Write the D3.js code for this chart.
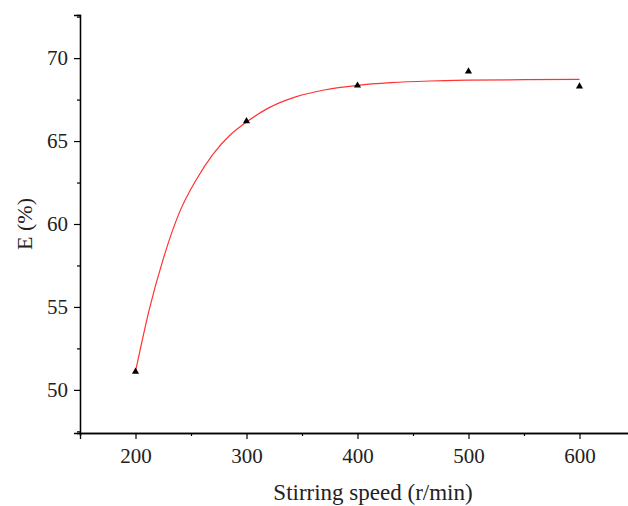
<!DOCTYPE html>
<html>
<head>
<meta charset="utf-8">
<script src="https://cdn.jsdelivr.net/npm/d3@7"></script>
<style>
body { margin: 0; background: #fff; }
text { font-family: "Liberation Serif", "Times New Roman", serif; }
</style>
</head>
<body>
<script>
// measured points
var speeds = [200, 300, 400, 500, 600];
var efficiency = [51.1, 66.2, 68.35, 69.2, 68.3];

// fitted curve
var fitSpeeds = [200, 212.6, 225, 239.6, 255, 269.7, 285, 300, 320, 345, 370, 400, 430, 465, 500, 550, 600];
var fitValues = [51.1, 54.9, 57.9, 60.7, 62.7, 64.2, 65.35, 66.15, 67.0, 67.68, 68.08, 68.36, 68.52, 68.62, 68.67, 68.7, 68.72];

var xTicks = [200, 300, 400, 500, 600];
var yTicks = [50, 55, 60, 65, 70];

var svg = d3.select("body").append("svg")
    .attr("width", 628)
    .attr("height", 506);

var x = d3.scaleLinear().domain([150, 650]).range([80, 635]);
var y = d3.scaleLinear().domain([47.4, 72.6]).range([433, 15]);

// axes
svg.append("g").attr("transform", "translate(0,433)")
    .call(d3.axisBottom(x).tickValues(xTicks).tickSize(6).tickPadding(9));
svg.append("g").attr("transform", "translate(0,433)")
    .call(d3.axisBottom(x).tickValues([150, 250, 350, 450, 550]).tickSize(3).tickFormat(""));
svg.append("g").attr("transform", "translate(80,0)")
    .call(d3.axisLeft(y).tickValues(yTicks).tickSize(6).tickPadding(6));
svg.append("g").attr("transform", "translate(80,0)")
    .call(d3.axisLeft(y).tickValues([47.5, 52.5, 57.5, 62.5, 67.5, 72.5]).tickSize(3).tickFormat(""));

svg.selectAll(".domain").attr("stroke", "#000").attr("stroke-width", 1.3);
svg.selectAll(".tick line").attr("stroke", "#000").attr("stroke-width", 1.2);
svg.selectAll(".tick text").style("font-size", "21px").attr("fill", "#222");

// fitted line
var line = d3.line()
    .x(function(d, i) { return x(fitSpeeds[i]); })
    .y(function(d) { return y(d); })
    .curve(d3.curveMonotoneX);

svg.append("path")
    .datum(fitValues)
    .attr("d", line)
    .attr("fill", "none")
    .attr("stroke", "#f33")
    .attr("stroke-width", 1.2);

// triangles
svg.selectAll(".pt")
    .data(efficiency)
    .enter().append("path")
    .attr("d", d3.symbol().type(d3.symbolTriangle).size(22))
    .attr("transform", function(d, i) { return "translate(" + x(speeds[i]) + "," + y(d) + ")"; })
    .attr("fill", "#000");

// labels
svg.append("text")
    .attr("x", 373).attr("y", 500)
    .attr("text-anchor", "middle")
    .attr("fill", "#222")
    .style("font-size", "23px")
    .text("Stirring speed (r/min)");

svg.append("text")
    .attr("transform", "translate(32,224) rotate(-90)")
    .attr("text-anchor", "middle")
    .attr("fill", "#222")
    .style("font-size", "22px")
    .text("E (%)");
</script>
</body>
</html>
